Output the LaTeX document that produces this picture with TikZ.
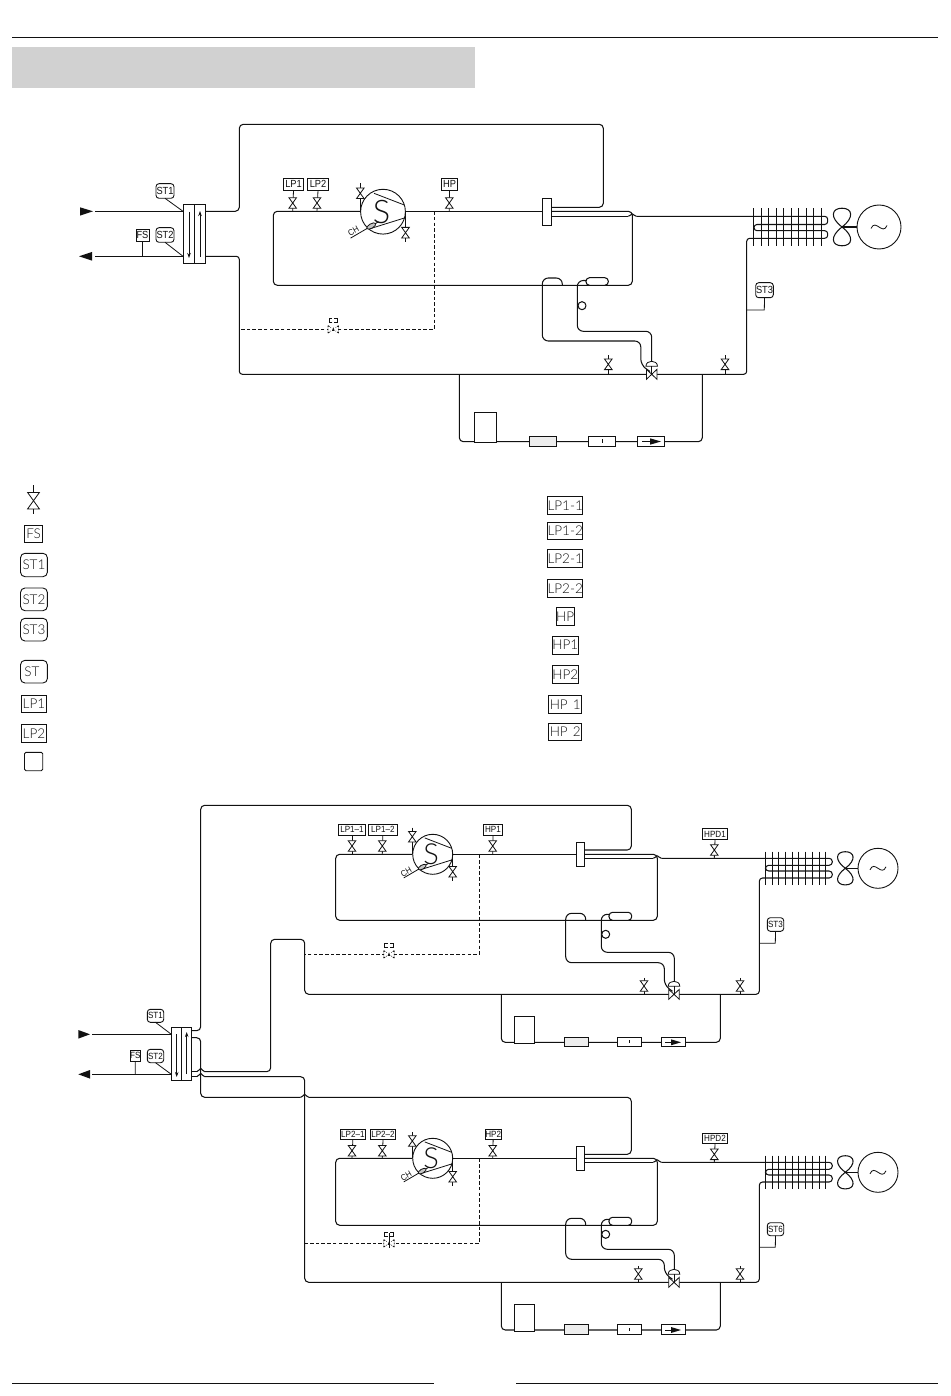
\documentclass[tikz,border=0pt]{standalone}
\usepackage{fontspec}
\setmainfont{Liberation Sans}
\newfontfamily\cad[FakeStretch=0.9]{Liberation Sans}
\newfontfamily\thinf[UprightFont=* Light]{Lato}
\usetikzlibrary{arrows.meta}
\definecolor{ink}{HTML}{111111}
\tikzset{
 pipe/.style={draw=ink,line width=1.05pt,line join=round},
 rpipe/.style={pipe,rounded corners=4pt},
 thinl/.style={draw=ink,line width=.8pt},
 dpipe/.style={draw=ink,line width=.95pt,dash pattern=on 3.5pt off 2.2pt},
 bxs/.style={draw=ink,line width=.9pt,inner sep=0pt,outer sep=0pt,fill=white,text=ink,align=center},
 tagS/.style={bxs,font=\cad\fontsize{9}{9}\selectfont},
 tagA/.style={bxs,font=\cad\fontsize{10.3}{10}\selectfont},
 tagL/.style={bxs,font=\thinf\fontsize{13.5}{14}\selectfont},
 rnd/.style={rounded corners=3pt},
 speck/.style={fill=gray!14},
 vv/.pic={\draw[thinl,fill=white] (-3.8,-5.3)--(3.8,-5.3)--(-3.8,5.3)--(3.8,5.3)--cycle;},
 dv/.pic={\fill[white] (-5,-3.7) rectangle (5,3.7);
   \draw[draw=ink,line width=.75pt,dash pattern=on 1.8pt off 1.2pt] (-5.2,-3.7)--(-5.2,3.7) (5.2,-3.7)--(5.2,3.7) (-5.2,-3.7)--(-2.4,-1.7) (-5.2,3.7)--(-2.4,1.7) (5.2,-3.7)--(2.4,-1.7) (5.2,3.7)--(2.4,1.7);
   \draw[draw=ink,line width=.75pt] (-1,-7)--(-4.2,-7)--(-4.2,-11)--(-1,-11) (1,-7)--(4.2,-7)--(4.2,-11)--(1,-11);
   \fill[ink] (0,-2)--(1.3,1.5)--(-1.3,1.5)--cycle;},
 txv/.pic={\draw[thinl,fill=white] (-5.3,-5)--(-5.3,5)--(5.3,-5)--(5.3,5)--cycle;
   \draw[thinl] (0,0)--(0,-8);
   \draw[thinl,fill=white] (-5.8,-8) .. controls (-5.8,-14.7) and (5.8,-14.7) .. (5.8,-8) -- cycle;},
}
% box node by its corners
\newcommand\bx[7][]{%
 \pgfmathsetmacro\bcx{((#3)+(#5))/2}\pgfmathsetmacro\bcy{((#4)+(#6))/2}%
 \pgfmathsetmacro\bw{(#5)-(#3)}\pgfmathsetmacro\bh{(#6)-(#4)}%
 \node[bxs,minimum width=\bw pt,minimum height=\bh pt,#1] (#2) at (\bcx,\bcy) {#7};}
\newcommand\stemv[4]{\draw[thinl] (#1,#2)--(#1,#4); \pic at (#1,#3) {vv};}
\newcommand\tagv[4]{\draw[thinl] (#1.south)--(#2,#4); \pic at (#2,#3) {vv};}
\newcommand\hop[3]{\draw[pipe] (#1-4,#2) .. controls (#1-2,#2) and (#1-1.2,#2-#3) .. (#1,#2-#3) .. controls (#1+1.2,#2-#3) and (#1+2,#2) .. (#1+4,#2);}
% compressor: centre, radius factor
\newcommand\compressor[4]{%
 \node[circle,draw=ink,line width=.9pt,fill=white,minimum size=#3*40pt,inner sep=0pt,outer sep=0pt] (#4) at (#1,#2) {};
 \begin{scope}[shift={(#1,#2)},scale=#3]
  \draw[thinl] (-8,-16.4)--(19,-6) (-11,15)--(19.5,5.5);
  \draw[thinl] (-29,23.6)--(-4,9);
  \draw[thinl,fill=gray!45,shift={(-10.5,12.8)},rotate=30] (0,0) ellipse [x radius=4.5pt,y radius=2pt];
 \end{scope}
 \node[font=\thinf\fontsize{29}{29}\selectfont,text=ink,inner sep=0pt,scale=#3] at (#1-1.5,#2) {S};
 \node[font=\cad\fontsize{8.5}{9}\selectfont,text=ink,inner sep=0pt,rotate=30] at (#1-26.5*#3,#2+17.6*#3) {CH};
}
% fan and motor
\newcommand\fanmotor[7]{% fan x, y, half height, half width, motor x, radius, name
 \node[circle,draw=ink,line width=.9pt,minimum size=#6*2pt,inner sep=0pt,outer sep=0pt] (motor#7) at (#5,#2) {};
 \begin{scope}[shift={(#1,#2)},xscale=#4,yscale=#3]
  \draw[pipe] (0,0) .. controls (-1.6,-.5) and (-1.35,-1) .. (0,-1) .. controls (1.35,-1) and (1.6,-.5) .. (0,0)
              .. controls (-1.6,.5) and (-1.35,1) .. (0,1) .. controls (1.35,1) and (1.6,.5) .. (0,0);
 \end{scope}
 \draw[pipe] (#1,#2)--(motor#7.west);
 \begin{scope}[shift={(#5,#2)}]
  \draw[thinl] (-8,1.5) .. controls (-3.5,-9) and (3.5,9) .. (8,-1.5);
 \end{scope}
}
% circuit used twice in the lower diagram
\newcommand\circuit[9]{% #1 main y, #2 bottom, #3 lower, #4 drop2, #5 drop1, #6 circle y, #7 small valve x, #8 loop bottom, #9 suffix
 \pgfmathsetmacro\Lx{#1+4}
 \draw[rpipe] (412.7,#1)--(335.7,#1)--(335.7,#2)--(657.3,#2)--(657.3,#1)--(584.7,#1);
 \draw[pipe] (452.7,#1)--(576.3,#1);
 \draw[rpipe,rounded corners=6pt] (585.7,#2)--(585.7,#2-7)--(565.7,#2-7)--(565.7,#5)--(664.3,#5)--(664.3,#3-9) [rounded corners=0pt] -- (672.5,#3-3);
 \draw[rpipe,rounded corners=6pt] (609,#2-6)--(601.3,#2-6)--(601.3,#4)--(674.3,#4)--(674.3,#3-11);
 \draw[pipe,fill=white,rounded corners=3.5pt] (609,#2-8) rectangle (631.7,#2);
 \draw[pipe,fill=white] (605.7,#6) circle[radius=4pt];
 \draw[pipe] (584.7,\Lx)--(653.3,\Lx);
 \hop{657.3}{\Lx}{2.6}
 \draw[pipe,rounded corners=3.2pt] (661.3,\Lx)
   --(832.3,\Lx)--(832.3,\Lx+7)--(765.5,\Lx+7)--(765.5,\Lx+12.7)--(832.3,\Lx+12.7)--(832.3,\Lx+19.7)--(759.3,\Lx+19.7)--(759.3,#3)--(314,#3);
 \foreach \i in {0,...,9} {\draw[thinl,line width=.95pt] (765.3+\i*6.71,\Lx-6.6)--(765.3+\i*6.71,\Lx+26.7);}
 \fanmotor{845.3}{\Lx+10}{16.6}{7}{878}{20}{#9}
 \stemv{#7}{#3-16.5}{#3-8.3}{#3}
 \stemv{740}{#3-16.5}{#3-8.3}{#3}
 \pic at (674,#3) {txv};
 \draw[rpipe] (501.3,#3)--(501.3,#8)--(720.3,#8)--(720.3,#3);
 \bx{box#9}{514.3}{#8-26}{534.7}{#8+1}{}
 \bx[speck]{drier#9}{564}{#8-5.3}{588.7}{#8+4.5}{}
 \bx{sight#9}{617.3}{#8-5.3}{641.7}{#8+4.5}{}
 \draw[thinl] (629.5,#8-2)--(629.5,#8+1);
 \bx{check#9}{661.3}{#8-5.3}{685.7}{#8+4.5}{}
 \draw[thinl] (665,#8)--(672,#8);
 \fill[ink] (671,#8-3)--(681,#8)--(671,#8+3)--cycle;
 \bx{sep#9}{576.3}{#1-12}{584.7}{#1+12.4}{}
}
\begin{document}
\begin{tikzpicture}[x=1pt,y=-1pt]
\useasboundingbox (0,0) rectangle (950,1396);
\fill[white] (0,0) rectangle (950,1396);
% page furniture
\draw[ink,line width=.8pt] (12,37)--(938,37);
\fill[black!18] (12,47) rectangle (475,88);
\draw[ink,line width=.9pt] (12,1383.4)--(434,1383.4) (516,1383.4)--(938,1383.4);

% ===== top circuit =====
\fill[ink] (80,207.3)--(93,211.3)--(80,215.6)--cycle;
\fill[ink] (92,252)--(79,256.3)--(92,260.6)--cycle;
\bx[fill=none]{hxA}{183.3}{204.3}{205.7}{263.7}{}
\draw[thinl] (194.5,204.3)--(194.5,263.7);
\draw[thinl,-{Stealth[length=5pt,width=3.5pt]}] (189,212)--(189,258);
\draw[thinl,-{Stealth[length=5pt,width=3.5pt]}] (200,257)--(200,211);
\draw[pipe] (95,211.3)--(hxA.west |- 0,211.3);
\draw[pipe] (95,256.3)--(hxA.west |- 0,256.3);
\bx[tagA]{fsA}{136}{229}{149}{241.7}{FS}
\bx[tagA,rnd]{st1A}{156}{183.7}{174}{198.3}{ST1}
\bx[tagA,rnd]{st2A}{156}{227.7}{174}{242.3}{ST2}
\draw[thinl] (fsA.south)--(142.5,256.3);
\draw[thinl] (st1A.south)--(183,211.3);
\draw[thinl] (st2A.south)--(183,256.3);
\bx{sepA}{542.3}{198.3}{551.7}{225.7}{}
\draw[rpipe] (hxA.east |- 0,211.3)--(239.3,211.3)--(239.3,124.3)--(603.3,124.3)--(603.3,207.3)--(sepA.east |- 0,207.3);
\draw[rpipe] (360.5,211.3)--(273.3,211.3)--(273.3,285.3)--(632.3,285.3)--(632.3,211.3)--(sepA.east |- 0,211.3);
\draw[pipe] (405.5,211.3)--(sepA.west |- 0,211.3);
% coil and return line
\draw[pipe] (sepA.east |- 0,216.3)--(628.3,216.3);
\hop{632.3}{216.3}{2.5}
\draw[pipe,rounded corners=3pt] (636.3,216.3)--(827.7,216.3)--(827.7,224.5)--(754,224.5)--(754,230.7)--(827.7,230.7)--(827.7,238.3)--(746.7,238.3)--(746.7,374.3)--(239.3,374.3)--(239.3,256.3)--(hxA.east |- 0,256.3);
\foreach \i in {0,...,9} {\draw[thinl,line width=.95pt] (753.5+\i*7.5,208.3)--(753.5+\i*7.5,246);}
\fanmotor{842}{227}{18.8}{7.8}{879}{22}{A}
\compressor{383}{211.7}{1.12}{compA}
\bx[tagA]{lp1A}{283.3}{178.3}{303.7}{190.3}{LP1}
\bx[tagA]{lp2A}{307.7}{178.3}{328.3}{190.3}{LP2}
\bx[tagA]{hpA}{441.3}{178.3}{457.7}{190.3}{HP}
\tagv{lp1A}{292.7}{203}{211.3}
\tagv{lp2A}{317}{203}{211.3}
\tagv{hpA}{449.3}{203}{211.3}
\stemv{360.3}{183}{193.3}{211}
\stemv{405.5}{211.5}{232.7}{241.7}
% dashed bypass
\draw[dpipe] (434.3,211.3)--(434.3,329.3)--(239.3,329.3);
\pic at (333.3,329.3) {dv};
% humps and lines to expansion valve
\draw[rpipe,rounded corners=6pt] (562.3,285.3)--(562.3,278)--(542.3,278)--(542.3,341)--(640.8,341)--(640.8,365)[rounded corners=0pt]--(650,371.5);
\draw[rpipe,rounded corners=6pt] (586,280.5)--(577.3,280.5)--(577.3,331.3)--(651.7,331.3)--(651.7,361);
\draw[pipe,fill=white,rounded corners=3.5pt] (586,277.7) rectangle (608.3,285.3);
\draw[pipe,fill=white] (582,305.7) circle[radius=4pt];
\stemv{608.3}{355}{364.3}{374.3}
\stemv{725}{355}{364.3}{374.3}
\pic at (651.7,374.3) {txv};
% ST3
\bx[tagA,rnd]{st3A}{755.7}{282.7}{773.3}{297.7}{ST3}
\draw[thinl] (st3A.south)--(764.3,310)--(746.7,310);
% receiver loop
\draw[rpipe] (459.3,374.3)--(459.3,441.7)--(702.3,441.7)--(702.3,374.3);
\bx{boxA}{474.3}{412.3}{496.7}{442.3}{}
\bx[speck]{drierA}{529}{436}{556}{446.3}{}
\bx{sightA}{588.3}{436}{615.7}{446.3}{}
\draw[thinl] (602,439)--(602,442.5);
\bx{checkA}{637.3}{436}{664.3}{446.3}{}
\draw[thinl] (642,441.5)--(651,441.5);
\fill[ink] (650,438.3)--(661,441.5)--(650,444.7)--cycle;

% ===== legend =====
\draw[thinl] (33.5,485)--(33.5,514.3);
\pic[scale=1.55] at (33.5,500.7) {vv};
\bx[tagL]{lgFS}{24.5}{525}{42.7}{542.7}{FS}
\bx[tagL,rounded corners=4.5pt]{lgST1}{20.5}{553.3}{47.4}{576.7}{ST1}
\bx[tagL,rounded corners=4.5pt]{lgST2}{20.5}{588}{47.4}{610.7}{ST2}
\bx[tagL,rounded corners=4.5pt]{lgST3}{20.5}{618.3}{47.4}{641}{ST3}
\bx[tagL,rounded corners=4.5pt]{lgST}{20.5}{660.3}{47.4}{683}{ST\hspace{4pt}}
\bx[tagL]{lgLP1}{21.3}{695.3}{46.6}{712.7}{LP1}
\bx[tagL]{lgLP2}{21.3}{724.3}{46.6}{742.7}{LP2}
\bx[bxs,rounded corners=1.5pt]{lgBlank}{24.5}{752.3}{42.7}{770.7}{}
\bx[tagL]{lgA}{548.2}{496.7}{582.2}{514}{LP1-1}
\bx[tagL]{lgB}{548.2}{522.3}{582.2}{539.7}{LP1-2}
\bx[tagL]{lgC}{548.2}{549.7}{582.2}{567.3}{LP2-1}
\bx[tagL]{lgD}{548.2}{579.7}{582.2}{597.7}{LP2-2}
\bx[tagL]{lgE}{556}{607.3}{574.3}{625.3}{HP}
\bx[tagL]{lgF}{552.6}{636}{577.9}{654.3}{HP1}
\bx[tagL]{lgG}{552.6}{665.3}{577.9}{683.3}{HP2}
\bx[tagL]{lgH}{548.6}{695.7}{581.8}{713.7}{HP\hspace{5pt}1}
\bx[tagL]{lgI}{548.6}{723.3}{581.8}{740.3}{HP\hspace{5pt}2}

% ===== bottom diagram =====
\fill[ink] (78.3,1030)--(90,1034.3)--(78.3,1038.6)--cycle;
\fill[ink] (90,1070)--(78.3,1074.3)--(90,1078.6)--cycle;
\bx[fill=none]{hxB}{171.3}{1027.3}{191.7}{1080.7}{}
\draw[thinl] (181.7,1027.3)--(181.7,1080.7);
\draw[thinl,-{Stealth[length=5pt,width=3.5pt]}] (176.7,1034)--(176.7,1077);
\draw[thinl,-{Stealth[length=5pt,width=3.5pt]}] (186.7,1074)--(186.7,1032);
\draw[pipe] (92.3,1034.3)--(hxB.west |- 0,1034.3);
\draw[pipe] (92.3,1074.3)--(hxB.west |- 0,1074.3);
\bx[tagS]{fsB}{130}{1050}{140.7}{1061}{FS}
\bx[tagS,rnd]{st1B}{147.3}{1009.3}{163.7}{1022.3}{ST1}
\bx[tagS,rnd]{st2B}{147.3}{1049.3}{163.7}{1062.7}{ST2}
\draw[thinl] (fsB.south)--(135.3,1074.3);
\draw[thinl] (st1B.south)--(171.3,1034.3);
\draw[thinl] (st2B.south)--(171.3,1074.3);

\circuit{854.3}{920.3}{994.3}{952.3}{962.7}{934.3}{644}{1042.3}{B}
\circuit{1158.3}{1225.3}{1282.3}{1249.3}{1259.3}{1234.3}{638.3}{1330}{C}

% wiring from the exchanger
\draw[rpipe] (hxB.east |- 0,1030.7)--(200.7,1030.7)--(200.7,805.3)--(631.3,805.3)--(631.3,850)--(sepB.east |- 0,850);
\draw[rpipe] (hxB.east |- 0,1037.7)--(200.7,1037.7)--(200.7,1097.3)--(300.7,1097.3);
\hop{304.7}{1097.3}{3}
\draw[rpipe] (308.7,1097.3)--(631.3,1097.3)--(631.3,1154.3)--(sepC.east |- 0,1154.3);
\draw[pipe] (hxB.east |- 0,1071.7)--(196.7,1071.7);
\hop{200.7}{1071.7}{3.3}
\draw[rpipe] (204.7,1071.7)--(270.7,1071.7)--(270.7,939.3)--(304.7,939.3)--(304.7,994.3)--(314,994.3);
\draw[pipe] (hxB.east |- 0,1076.7)--(196.7,1076.7);
\hop{200.7}{1076.7}{3.3}
\draw[rpipe] (204.7,1076.7)--(304.7,1076.7)--(304.7,1282.3)--(314,1282.3);

% upper sub-circuit fittings
\compressor{432.7}{854.3}{1}{compB}
\bx[tagS]{lp11}{338.3}{824.3}{365.7}{835.3}{LP1–1}
\bx[tagS]{lp12}{368.3}{824.3}{397.3}{835.3}{LP1–2}
\bx[tagS]{hp1}{483.3}{824.3}{502.7}{835.3}{HP1}
\bx[tagS]{hpd1}{702.3}{828.3}{727.7}{839.7}{HPD1}
\tagv{lp11}{352}{846}{854.3}
\tagv{lp12}{382.3}{846}{854.3}
\tagv{hp1}{492.7}{846}{854.3}
\tagv{hpd1}{714.3}{850}{858.3}
\stemv{412.3}{827.7}{836.7}{854}
\stemv{452.7}{854.5}{871.7}{880.7}
\draw[dpipe] (479.3,854.3)--(479.3,954.3)--(304.7,954.3);
\pic at (389,954.3) {dv};
\bx[tagS,rnd]{st3B}{767.3}{917.7}{783.7}{931.3}{ST3}
\draw[thinl] (st3B.south)--(775.3,943.3)--(759.3,943.3);

% lower sub-circuit fittings
\compressor{432.7}{1158.3}{1}{compC}
\bx[tagS]{lp21}{340}{1129.3}{365.7}{1139.7}{LP2–1}
\bx[tagS]{lp22}{370.3}{1129.3}{395.7}{1139.7}{LP2–2}
\bx[tagS]{hp2}{485.3}{1129.3}{501}{1139.7}{HP2}
\bx[tagS]{hpd2}{702.3}{1133.3}{727.7}{1143.7}{HPD2}
\tagv{lp21}{352}{1150.7}{1158.3}
\tagv{lp22}{382.3}{1150.7}{1158.3}
\tagv{hp2}{492.7}{1150.7}{1158.3}
\tagv{hpd2}{714.3}{1154.3}{1162.3}
\stemv{412.3}{1132.3}{1141}{1158}
\stemv{452.7}{1158.5}{1176.7}{1185.7}
\draw[dpipe] (479.3,1158.3)--(479.3,1243.3)--(304.7,1243.3);
\pic at (389,1243.3) {dv};
\draw[thinl] (389,1233)--(389,1247.5);
\bx[tagS,rnd]{st6}{767.3}{1222.7}{783.7}{1235.7}{ST6}
\draw[thinl] (st6.south)--(775.3,1247.3)--(759.3,1247.3);
\end{tikzpicture}
\end{document}
